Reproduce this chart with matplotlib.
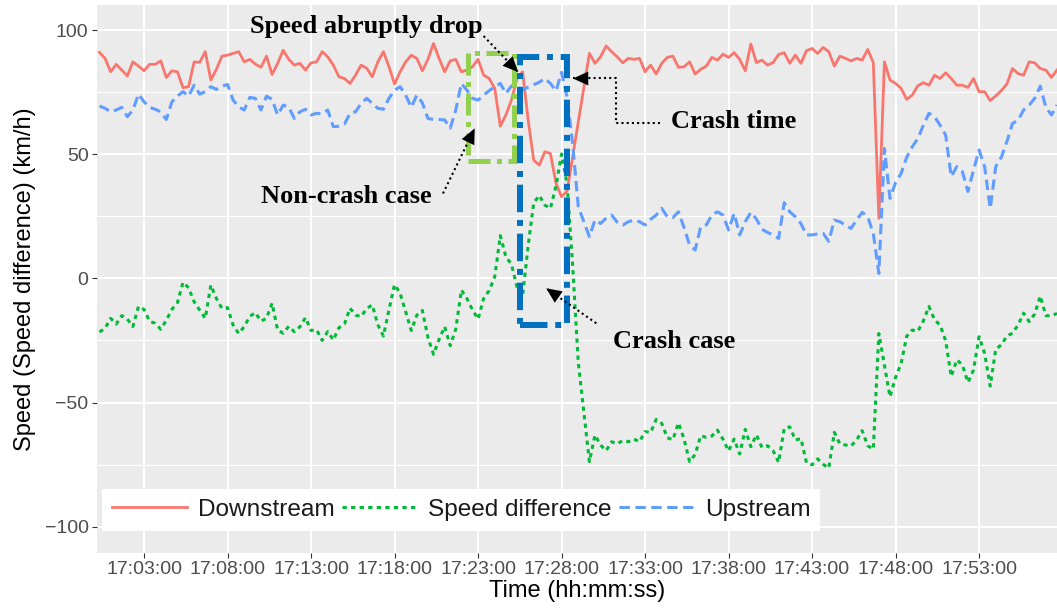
import pandas as pd
import matplotlib
matplotlib.use("Agg")
import matplotlib.pyplot as plt
import matplotlib.dates as mdates
from matplotlib.patches import Rectangle
from matplotlib.ticker import MultipleLocator

plt.rcParams["font.family"] = ["Liberation Sans", "DejaVu Sans"]

# detector readings every 20 s, first one at 17:00:20
day = "2019-01-01 "
start_time = day + "17:00:20"

downstream = [
    91.0, 88.6, 83.2, 86.2, 83.9, 81.5, 87.2, 85.5, 83.6, 86.2,
    86.2, 87.6, 80.9, 83.6, 83.2, 76.8, 77.2, 87.2, 87.0, 91.3,
    79.9, 84.2, 89.5, 89.9, 90.6, 91.3, 87.2, 88.2, 86.3, 85.0,
    89.5, 82.1, 86.6, 91.9, 88.2, 85.9, 86.6, 83.9,
    86.8, 87.2, 91.3, 89.2, 85.9, 81.2, 80.5, 78.5, 81.9, 85.9,
    84.6, 81.2, 87.2, 91.3, 85.2, 78.3, 83.2, 87.2, 89.9, 88.6,
    83.6, 88.2, 94.6, 88.6, 83.2, 87.6, 88.2, 83.2, 83.9, 85.2,
    88.2, 81.9, 80.5, 76.5,
    61.3, 65.8, 71.8, 80.5, 83.2, 63.8, 47.6, 45.6, 51.0, 50.3,
    38.3, 32.9, 35.2, 49.0, 62.8, 76.5, 90.6, 86.6, 89.2, 93.6,
    91.3, 89.2, 86.8, 88.6, 88.2, 88.6, 83.2, 85.9, 82.3, 86.6,
    89.0, 89.5, 85.0, 85.2, 87.2, 82.3, 84.2,
    85.5, 89.0, 87.9, 90.3, 89.0, 90.9, 88.2, 83.6, 94.4, 86.9,
    87.9, 85.9, 86.9, 90.2, 90.9, 86.6, 89.9, 86.6, 91.7, 92.6,
    90.6, 93.0, 91.3, 85.5, 89.5, 88.6, 87.6, 88.6, 87.9, 92.2,
    86.9, 24.2,
    87.2, 79.9, 78.5, 76.5, 72.1, 73.8, 77.6, 78.8, 77.8, 81.8,
    80.5, 82.8, 80.5, 77.8, 77.8, 76.9, 80.5, 75.2, 75.2, 71.6,
    73.5, 75.6, 78.3, 84.5, 82.5, 81.8, 87.2, 86.8, 84.5, 83.9,
    80.9, 83.9,
]

upstream = [
    69.4, 68.5, 67.1, 67.8, 68.9, 65.1, 67.8, 74.2, 71.1, 68.9,
    68.1, 67.1, 64.0, 71.1, 73.4, 75.2, 73.4, 77.8, 74.2, 75.2,
    77.2, 76.1, 77.4, 78.1, 71.8, 69.1, 67.8, 72.9, 72.5, 67.8,
    73.4, 72.1, 65.8, 69.8, 68.9, 64.4, 67.1, 68.1,
    65.8, 66.5, 66.3, 67.8, 61.1, 61.3, 62.1, 66.5, 67.1, 70.5,
    72.5, 70.5, 68.5, 68.1, 72.5, 75.8, 77.2, 73.8, 68.9, 73.8,
    70.7, 64.4, 64.0, 64.0, 63.8, 60.5, 67.8, 78.5, 75.8, 72.5,
    71.8, 73.8, 75.6, 77.2,
    78.5, 74.5, 77.5, 77.0, 76.0, 77.0, 78.0, 79.0, 80.5, 78.5,
    75.5, 83.0, 73.0, 54.0, 29.0, 22.8, 16.8, 23.5, 22.1, 24.2,
    25.5, 22.6, 21.5, 22.8, 23.5, 22.8, 21.5, 23.8, 25.5, 28.2,
    24.8, 24.5, 26.8, 20.5, 13.4, 11.4, 20.8,
    21.5, 25.5, 26.8, 25.5, 19.5, 26.2, 17.5, 22.8, 26.6, 23.9,
    19.8, 18.5, 17.5, 16.1, 30.5, 26.8, 24.8, 22.1, 17.5, 17.5,
    17.9, 18.1, 14.9, 23.5, 22.8, 21.5, 20.1, 23.5, 26.6, 24.8,
    18.1, 2.0,
    52.3, 32.2, 38.6, 42.3, 48.8, 53.0, 56.3, 61.7, 66.5, 65.1,
    61.7, 57.7, 41.0, 45.0, 43.0, 35.0, 43.6, 51.7, 45.0, 28.2,
    45.0, 48.8, 55.1, 62.4, 63.7, 67.8, 69.8, 72.5, 77.4, 68.9,
    65.8, 69.8,
]

# speed difference = upstream - downstream
speed_diff = [u - d for u, d in zip(upstream, downstream)]

times = pd.date_range(start_time, periods=len(downstream), freq="20s").to_pydatetime()
tick_times = pd.date_range(day + "17:03:00", day + "17:53:00", freq="5min").to_pydatetime()


def t(hms):
    return mdates.date2num(pd.Timestamp(day + hms).to_pydatetime())


fig = plt.figure(figsize=(10.57, 6.09), dpi=100)
ax = fig.add_axes([97 / 1057, 1 - 553 / 609, 960 / 1057, 548 / 609])

ax.set_facecolor("#EBEBEB")
for s in ax.spines.values():
    s.set_visible(False)

ax.plot(times, downstream, color="#F8766D", lw=2.0, label="Downstream", zorder=3)
ax.plot(times, speed_diff, color="#00BA38", lw=2.2, ls=(0, (1.4, 1.4)),
        label="Speed difference", zorder=3)
ax.plot(times, upstream, color="#619CFF", lw=2.2, ls=(0, (3.4, 1.8)),
        label="Upstream", zorder=3)

ax.set_xlim(t("17:00:11"), t("17:57:40"))
ax.set_ylim(-110.6, 110.1)

ax.set_xticks(tick_times)
ax.xaxis.set_major_formatter(mdates.DateFormatter("%H:%M:%S"))
ax.set_yticks([-100, -50, 0, 50, 100])
ax.yaxis.set_minor_locator(MultipleLocator(25))

ax.set_axisbelow(True)
ax.grid(which="major", color="white", lw=1.5)
ax.grid(which="minor", axis="y", color="white", lw=0.8)

ax.tick_params(which="major", labelsize=14, labelcolor="#4D4D4D",
               length=3.6, width=0.8, color="#333333", pad=2.5)
ax.tick_params(which="minor", length=0)

ax.set_xlabel("Time (hh:mm:ss)", fontsize=17)
ax.set_ylabel("Speed (Speed difference) (km/h)", fontsize=17)
ax.xaxis.set_label_coords(0.5, -0.049)
ax.yaxis.set_label_coords(-0.064, 0.5)

# highlighted windows
ax.add_patch(Rectangle((t("17:22:23"), 47.2), t("17:25:08") - t("17:22:23"), 90.7 - 47.2,
                       fill=False, edgecolor="#92D050", lw=3.6,
                       ls=(0, (4.4, 1.3, 1.0, 1.3)), zorder=6))
ax.add_patch(Rectangle((t("17:25:29"), -18.8), t("17:28:18") - t("17:25:29"), 89.2 + 18.8,
                       fill=False, edgecolor="#0070C0", lw=4.3,
                       ls=(0, (4.6, 1.3, 1.0, 1.3)), zorder=6))

ann_font = dict(family="Liberation Serif", weight="bold", size=19)
ax.text(t("17:16:17"), 101.3, "Speed abruptly drop", ha="center", va="center", **ann_font)
ax.text(t("17:38:17"), 63.0, "Crash time", ha="center", va="center", **ann_font)
ax.text(t("17:15:05"), 33.1, "Non-crash case", ha="center", va="center", **ann_font)
ax.text(t("17:34:46"), -25.3, "Crash case", ha="center", va="center", **ann_font)


def dotted_arrow(points):
    xs = [t(p[0]) for p in points]
    ys = [p[1] for p in points]
    ax.plot(xs, ys, color="black", lw=1.5, ls=(0, (1, 1.5)), zorder=7)
    ax.annotate("", xy=(xs[-1], ys[-1]), xytext=(xs[-2], ys[-2]),
                arrowprops=dict(arrowstyle="-|>,head_length=1.1,head_width=0.5",
                                color="black", lw=0, shrinkA=0, shrinkB=0),
                zorder=8)


dotted_arrow([("17:23:20", 97.6), ("17:25:24", 83.1)])
dotted_arrow([("17:33:52", 62.4), ("17:31:16", 62.4), ("17:31:16", 80.5), ("17:28:41", 80.5)])
dotted_arrow([("17:20:54", 34.2), ("17:22:48", 60.4)])
dotted_arrow([("17:30:05", -18.1), ("17:27:05", -4.0)])

leg = ax.legend(loc="center left", bbox_to_anchor=(0.005, 0.0785), ncol=3,
                fontsize=17.6, handlelength=3.1, handletextpad=0.42,
                columnspacing=0.3, borderpad=0.4, borderaxespad=0,
                fancybox=False, framealpha=1)
leg.get_frame().set_facecolor("white")
leg.get_frame().set_linewidth(0)
for txt in leg.get_texts():
    txt.set_color("#1A1A1A")

fig.savefig("out.png", dpi=100)
